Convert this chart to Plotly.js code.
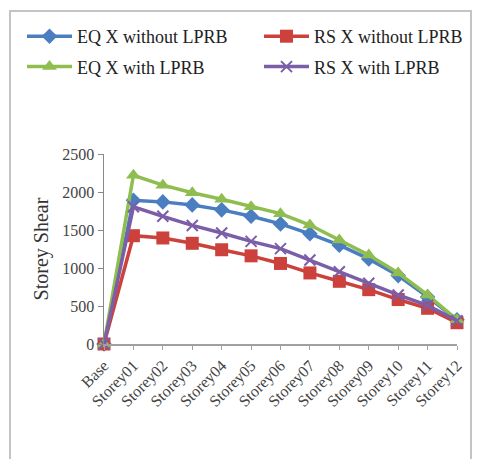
<!DOCTYPE html>
<html>
<head>
<meta charset="utf-8">
<script src="https://cdn.plot.ly/plotly-3.0.1.min.js"></script>
<style>
  html, body { margin: 0; padding: 0; background: #fff; }
  #wrap { position: relative; width: 478px; height: 459px; overflow: hidden; }
  #frame { position: absolute; left: 9px; top: 10px; width: 463px; height: 460px; border: 2px solid #c4c4c4; box-sizing: border-box; pointer-events: none; }
  #chart { position: absolute; left: 0; top: 0; width: 478px; height: 459px; }
</style>
</head>
<body>
<div id="wrap">
  <div id="chart"></div>
  <div id="frame"></div>
</div>
<script>
const categories = ["Base","Storey01","Storey02","Storey03","Storey04","Storey05","Storey06","Storey07","Storey08","Storey09","Storey10","Storey11","Storey12"];
const eqWithout = [0, 1890, 1870, 1830, 1765, 1680, 1580, 1450, 1300, 1120, 900, 620, 320];
const rsWithout = [0, 1425, 1395, 1325, 1240, 1160, 1060, 935, 825, 715, 585, 470, 280];
const eqWith    = [0, 2220, 2090, 1990, 1905, 1805, 1715, 1565, 1370, 1170, 935, 645, 320];
const rsWith    = [0, 1805, 1680, 1560, 1460, 1350, 1255, 1105, 950, 800, 645, 510, 305];
const yTicks = [0, 500, 1000, 1500, 2000, 2500];

const blue = '#4a7ec0', red = '#cc413c', green = '#8fbd50', purple = '#7a5ea8';
const serif = 'Liberation Serif, Times New Roman, serif';

function tr(name, y, color, symbol, size, legend, lw) {
  return {
    type: 'scatter', mode: 'lines+markers', name: name, legendgroup: name,
    x: categories, y: y, legend: legend, cliponaxis: false,
    line: {color: color, width: 3.5},
    marker: {symbol: symbol, size: size, color: color, line: {color: color, width: lw || 0}}
  };
}

const data = [
  tr('EQ X without LPRB', eqWithout, blue, 'diamond', 12, 'legend'),
  tr('RS X without LPRB', rsWithout, red, 'square', 13, 'legend2'),
  tr('EQ X with LPRB', eqWith, green, 'triangle-up', 13, 'legend'),
  tr('RS X with LPRB', rsWith, purple, 'x-thin-open', 11, 'legend2', 2)
];

const H = 459, B = 115, paperH = H - B;
const legendCommon = {
  xanchor: 'left', yanchor: 'top',
  font: {family: serif, size: 18, color: '#222'},
  bgcolor: 'rgba(0,0,0,0)', borderwidth: 0, tracegroupgap: 4,
  traceorder: 'grouped', itemwidth: 45
};

const layout = {
  width: 478, height: H,
  margin: {l: 0, r: 0, t: 0, b: B},
  paper_bgcolor: '#fff', plot_bgcolor: '#fff',
  showlegend: true,
  legend: Object.assign({}, legendCommon, {x: 22/478, y: 1 - 18/paperH}),
  legend2: Object.assign({}, legendCommon, {x: 259/478, y: 1 - 18/paperH}),
  xaxis: {
    type: 'category', range: [0, 12], tickangle: -45,
    domain: [104/478, 457/478],
    showline: true, linecolor: '#a0a0a0', linewidth: 2,
    ticks: 'outside', ticklen: 4, tickcolor: '#a0a0a0',
    showgrid: false, zeroline: false,
    tickfont: {family: serif, size: 16, color: '#444'}
  },
  yaxis: {
    range: [0, 2500], tickvals: yTicks, ticktext: yTicks.map(String),
    domain: [0, (344 - 154) / paperH],
    showline: true, linecolor: '#888', linewidth: 1.5,
    ticks: 'outside', ticklen: 5, tickcolor: '#888',
    showgrid: false, zeroline: false,
    tickfont: {family: serif, size: 16, color: '#444'},
    title: {text: 'Storey Shear', font: {family: serif, size: 20, color: '#333'}, standoff: 8}
  }
};

Plotly.newPlot('chart', data, layout, {staticPlot: true, displayModeBar: false});
</script>
</body>
</html>
